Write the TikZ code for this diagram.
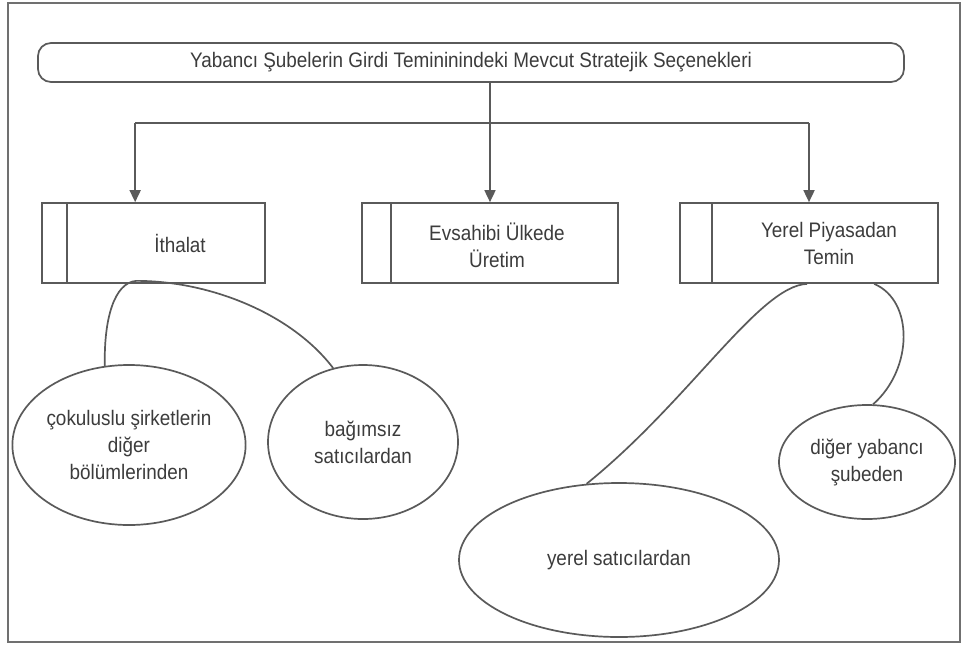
\documentclass[tikz,border=0pt]{standalone}
\usepackage{fontspec}
\setmainfont{Liberation Sans}[FakeStretch=0.9]
\usetikzlibrary{shapes.geometric,arrows.meta,calc}
\definecolor{lc}{HTML}{5A5A5A}
\definecolor{tc}{HTML}{3C3C3C}
\definecolor{fc}{HTML}{707070}
\begin{document}
\begin{tikzpicture}[x=1pt,y=-1pt,
  ln/.style={draw=lc,line width=1.7pt},
  arr/.style={-{Triangle[length=12pt,width=11pt]}},
  fnt/.style={font=\fontsize{21}{27}\selectfont},
  txt/.style={fnt,text=tc,align=center,inner sep=0pt},
  sbox/.style={draw=lc,line width=1.7pt,rectangle,inner sep=0pt,minimum height=80pt},
  titlebox/.style={fnt,draw=lc,line width=1.7pt,rectangle,rounded corners=13pt,inner sep=0pt,
    minimum width=866pt,minimum height=39pt,text=tc},
  ell/.style={fnt,draw=lc,line width=1.7pt,ellipse,inner sep=0pt,text=tc,align=center}
]
\useasboundingbox (0,0) rectangle (963,646);
\fill[white] (0,0) rectangle (963,646);
\draw[draw=fc,line width=1.8pt] (8,3) rectangle (960,642);

% title
\node[titlebox] (title) at (471,62.5) {Yabancı Şubelerin Girdi Temininindeki Mevcut Stratejik Seçenekleri};

% boxes
\node[sbox,minimum width=223pt] (ith) at (153.5,243) {};
\node[sbox,minimum width=256pt] (evs) at (490,243) {};
\node[sbox,minimum width=258pt] (yer) at (809,243) {};
\draw[ln] ($(ith.north west)+(26,0)$) -- ($(ith.south west)+(26,0)$);
\draw[ln] ($(evs.north west)+(30,0)$) -- ($(evs.south west)+(30,0)$);
\draw[ln] ($(yer.north west)+(33,0)$) -- ($(yer.south west)+(33,0)$);
\node[txt] (ithT) at (180,243) {İthalat};
\node[txt] (evsT) at (497,245) {Evsahibi Ülkede\\Üretim};
\node[txt] (yerT) at (829,243) {Yerel Piyasadan\\Temin};

% connectors from title
\coordinate (hl) at (0,123);
\coordinate (ia) at ($(ith.north west)+(94,0)$);
\draw[ln] (ia |- hl) -- (yer.north |- hl);
\draw[ln,arr] (ia |- hl) -- (ia);
\draw[ln,arr] (title.south -| evs.north) -- (evs.north);
\draw[ln,arr] (yer.north |- hl) -- (yer.north);

% ellipses
\node[ell,minimum width=208pt,minimum height=160pt] (cok) at (129,445) {çokuluslu şirketlerin\\diğer\\bölümlerinden};
\node[ell,minimum width=190pt,minimum height=154pt] (bag) at (363,442) {bağımsız\\satıcılardan};
\node[ell,minimum width=320pt,minimum height=154pt] (yel) at (619,560) {yerel satıcılardan};
\node[ell,minimum width=176pt,minimum height=114pt] (dig) at (867,462) {diğer yabancı\\şubeden};

% balloon connectors
\coordinate (ib) at ($(ith.south west)+(95,-3)$);
\draw[ln] (cok.107) .. controls +(-1,-47) and +(-22,2) .. (ib)
  .. controls +(73,0) and +(-42,-55) .. (bag.112);
\coordinate (ya) at ($(yer.south west)+(128,0)$);
\coordinate (yb) at ($(yer.south west)+(195,0)$);
\draw[ln] (ya) .. controls +(-48,2) and +(103,-83) .. (yel.113);
\draw[ln] (yb) .. controls +(40,17) and +(40,-35) .. (dig.84);
\end{tikzpicture}
\end{document}
